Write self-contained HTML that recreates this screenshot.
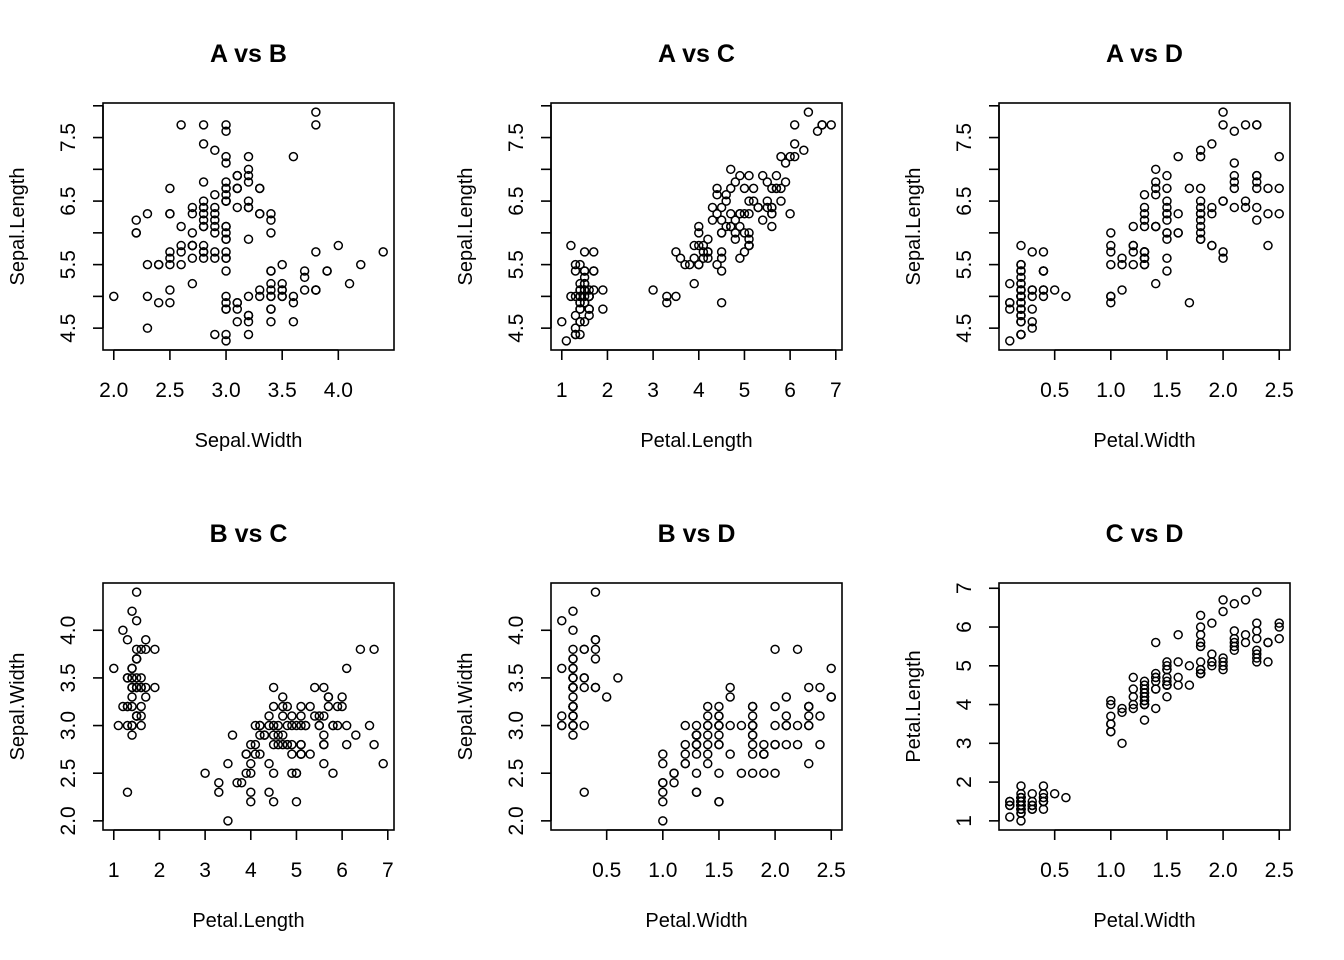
<!DOCTYPE html>
<html><head><meta charset="utf-8"><style>
body{margin:0;background:#fff}
svg{display:block;font-family:"Liberation Sans",Arial,sans-serif}
</style></head><body>
<svg id="c" width="1344" height="960"></svg>
<script>
const sepalLength=[5.1,4.9,4.7,4.6,5.0,5.4,4.6,5.0,4.4,4.9,5.4,4.8,4.8,4.3,5.8,5.7,5.4,5.1,5.7,5.1,5.4,5.1,4.6,5.1,4.8,5.0,5.0,5.2,5.2,4.7,4.8,5.4,5.2,5.5,4.9,5.0,5.5,4.9,4.4,5.1,5.0,4.5,4.4,5.0,5.1,4.8,5.1,4.6,5.3,5.0,
7.0,6.4,6.9,5.5,6.5,5.7,6.3,4.9,6.6,5.2,5.0,5.9,6.0,6.1,5.6,6.7,5.6,5.8,6.2,5.6,5.9,6.1,6.3,6.1,6.4,6.6,6.8,6.7,6.0,5.7,5.5,5.5,5.8,6.0,5.4,6.0,6.7,6.3,5.6,5.5,5.5,6.1,5.8,5.0,5.6,5.7,5.7,6.2,5.1,5.7,
6.3,5.8,7.1,6.3,6.5,7.6,4.9,7.3,6.7,7.2,6.5,6.4,6.8,5.7,5.8,6.4,6.5,7.7,7.7,6.0,6.9,5.6,7.7,6.3,6.7,7.2,6.2,6.1,6.4,7.2,7.4,7.9,6.4,6.3,6.1,7.7,6.3,6.4,6.0,6.9,6.7,6.9,5.8,6.8,6.7,6.7,6.3,6.5,6.2,5.9];
const sepalWidth=[3.5,3.0,3.2,3.1,3.6,3.9,3.4,3.4,2.9,3.1,3.7,3.4,3.0,3.0,4.0,4.4,3.9,3.5,3.8,3.8,3.4,3.7,3.6,3.3,3.4,3.0,3.4,3.5,3.4,3.2,3.1,3.4,4.1,4.2,3.1,3.2,3.5,3.6,3.0,3.4,3.5,2.3,3.2,3.5,3.8,3.0,3.8,3.2,3.7,3.3,
3.2,3.2,3.1,2.3,2.8,2.8,3.3,2.4,2.9,2.7,2.0,3.0,2.2,2.9,2.9,3.1,3.0,2.7,2.2,2.5,3.2,2.8,2.5,2.8,2.9,3.0,2.8,3.0,2.9,2.6,2.4,2.4,2.7,2.7,3.0,3.4,3.1,2.3,3.0,2.5,2.6,3.0,2.6,2.3,2.7,3.0,2.9,2.9,2.5,2.8,
3.3,2.7,3.0,2.9,3.0,3.0,2.5,2.9,2.5,3.6,3.2,2.7,3.0,2.5,2.8,3.2,3.0,3.8,2.6,2.2,3.2,2.8,2.8,2.7,3.3,3.2,2.8,3.0,2.8,3.0,2.8,3.8,2.8,2.8,2.6,3.0,3.4,3.1,3.0,3.1,3.1,3.1,2.7,3.2,3.3,3.0,2.5,3.0,3.4,3.0];
const petalLength=[1.4,1.4,1.3,1.5,1.4,1.7,1.4,1.5,1.4,1.5,1.5,1.6,1.4,1.1,1.2,1.5,1.3,1.4,1.7,1.5,1.7,1.5,1.0,1.7,1.9,1.6,1.6,1.5,1.4,1.6,1.6,1.5,1.5,1.4,1.5,1.2,1.3,1.4,1.3,1.5,1.3,1.3,1.3,1.6,1.9,1.4,1.6,1.4,1.5,1.4,
4.7,4.5,4.9,4.0,4.6,4.5,4.7,3.3,4.6,3.9,3.5,4.2,4.0,4.7,3.6,4.4,4.5,4.1,4.5,3.9,4.8,4.0,4.9,4.7,4.3,4.4,4.8,5.0,4.5,3.5,3.8,3.7,3.9,5.1,4.5,4.5,4.7,4.4,4.1,4.0,4.4,4.6,4.0,3.3,4.2,4.2,4.2,4.3,3.0,4.1,
6.0,5.1,5.9,5.6,5.8,6.6,4.5,6.3,5.8,6.1,5.1,5.3,5.5,5.0,5.1,5.3,5.5,6.7,6.9,5.0,5.7,4.9,6.7,4.9,5.7,6.0,4.8,4.9,5.6,5.8,6.1,6.4,5.6,5.1,5.6,6.1,5.6,5.5,4.8,5.4,5.6,5.1,5.1,5.9,5.7,5.2,5.0,5.2,5.4,5.1];
const petalWidth=[0.2,0.2,0.2,0.2,0.2,0.4,0.3,0.2,0.2,0.1,0.2,0.2,0.1,0.1,0.2,0.4,0.4,0.3,0.3,0.3,0.2,0.4,0.2,0.5,0.2,0.2,0.4,0.2,0.2,0.2,0.2,0.4,0.1,0.2,0.2,0.2,0.2,0.1,0.2,0.2,0.3,0.3,0.2,0.6,0.4,0.3,0.2,0.2,0.2,0.2,
1.4,1.5,1.5,1.3,1.5,1.3,1.6,1.0,1.3,1.4,1.0,1.5,1.0,1.4,1.3,1.4,1.5,1.0,1.5,1.1,1.8,1.3,1.5,1.2,1.3,1.4,1.4,1.7,1.5,1.0,1.1,1.0,1.2,1.6,1.5,1.6,1.5,1.3,1.3,1.3,1.2,1.4,1.2,1.0,1.3,1.2,1.3,1.3,1.1,1.3,
2.5,1.9,2.1,1.8,2.2,2.1,1.7,1.8,1.8,2.5,2.0,1.9,2.1,2.0,2.4,2.3,1.8,2.2,2.3,1.5,2.3,2.0,2.0,1.8,2.1,1.8,1.8,1.8,2.1,1.6,1.9,2.0,2.2,1.5,1.4,2.3,2.4,1.8,1.8,2.1,2.4,2.3,1.9,2.3,2.5,2.3,1.9,2.0,2.3,1.8];
const sepalLengthTicks=[4.5,5.0,5.5,6.0,6.5,7.0,7.5,8.0];
const sepalWidthTicks=[2.0,2.5,3.0,3.5,4.0];
const petalLengthTicks=[1,2,3,4,5,6,7];
const petalWidthTicks=[0.5,1.0,1.5,2.0,2.5];

const vars={
 "Sepal.Length":{d:sepalLength,t:sepalLengthTicks,skip:true,dec:1},
 "Sepal.Width":{d:sepalWidth,t:sepalWidthTicks,skip:false,dec:1},
 "Petal.Length":{d:petalLength,t:petalLengthTicks,skip:false,dec:0},
 "Petal.Width":{d:petalWidth,t:petalWidthTicks,skip:false,dec:1}
};
const panels=[
 {title:"A vs B",x:"Sepal.Width",y:"Sepal.Length",L:103,T:103},
 {title:"A vs C",x:"Petal.Length",y:"Sepal.Length",L:551,T:103},
 {title:"A vs D",x:"Petal.Width",y:"Sepal.Length",L:999,T:103},
 {title:"B vs C",x:"Petal.Length",y:"Sepal.Width",L:103,T:583},
 {title:"B vs D",x:"Petal.Width",y:"Sepal.Width",L:551,T:583},
 {title:"C vs D",x:"Petal.Width",y:"Petal.Length",L:999,T:583}
];
const W=291,H=247;
const svg=document.getElementById('c');
const NS="http://www.w3.org/2000/svg";
function mk(tag,attrs,parent){const e=document.createElementNS(NS,tag);for(const k in attrs)e.setAttribute(k,attrs[k]);parent.appendChild(e);return e;}
function range(a){let mn=Math.min(...a),mx=Math.max(...a),r=mx-mn;return [mn-0.04*r,mx+0.04*r];}
panels.forEach((p,pi)=>{
 const g=mk('g',{},svg);
 
 
 const xv=vars[p.x],yv=vars[p.y];
 const [x0,x1]=range(xv.d),[y0,y1]=range(yv.d);
 const sx=v=>p.L+(v-x0)/(x1-x0)*W;
 const sy=v=>p.T+H-(v-y0)/(y1-y0)*H;
 const t=mk('text',{x:p.L+W/2,y:p.T-41,'text-anchor':'middle','font-size':'25','font-weight':'bold'},g);
 t.textContent=p.title;
 
 
 const box=mk('rect',{x:p.L,y:p.T,width:W,height:H,fill:'none',stroke:'#000','stroke-width':'1.6'},g);
 
 
 const xt=xv.t.filter(v=>v>=x0&&v<=x1);
 const xa=mk('g',{},g);
 
 
 mk('line',{x1:sx(xt[0]),x2:sx(xt[xt.length-1]),y1:p.T+H,y2:p.T+H,stroke:'#000','stroke-width':'1.6'},xa);
 xt.forEach(v=>{
  mk('line',{x1:sx(v),x2:sx(v),y1:p.T+H,y2:p.T+H+10,stroke:'#000','stroke-width':'1.6'},xa);
  const l=mk('text',{x:sx(v),y:p.T+H+47,'text-anchor':'middle','font-size':'21'},xa);
  l.textContent=v.toFixed(xv.dec);
  
  
 });
 const xl=mk('text',{x:p.L+W/2,y:p.T+H+97,'text-anchor':'middle','font-size':'20'},g);
 xl.textContent=p.x;
 
 
 const yt=yv.t.filter(v=>v>=y0&&v<=y1);
 const ya=mk('g',{},g);
 
 
 mk('line',{x1:p.L,x2:p.L,y1:sy(yt[0]),y2:sy(yt[yt.length-1]),stroke:'#000','stroke-width':'1.6'},ya);
 yt.forEach((v,i)=>{
  mk('line',{x1:p.L,x2:p.L-10,y1:sy(v),y2:sy(v),stroke:'#000','stroke-width':'1.6'},ya);
  if(yv.skip&&i%2==1)return;
  const lx=p.L-28,ly=sy(v);
  const l=mk('text',{x:lx,y:ly,'text-anchor':'middle','font-size':'21',transform:`rotate(-90 ${lx} ${ly})`},ya);
  l.textContent=v.toFixed(yv.dec);
  
  
 });
 const tx=p.L-79,ty=p.T+H/2;
 const yl=mk('text',{x:tx,y:ty,'text-anchor':'middle','font-size':'20',transform:`rotate(-90 ${tx} ${ty})`},g);
 yl.textContent=p.y;
 
 
 const pts=mk('g',{fill:'none',stroke:'#000','stroke-width':'1.5'},g);
 
 
 xv.d.forEach((xvv,i)=>{
  const c=mk('circle',{cx:sx(xvv),cy:sy(yv.d[i]),r:4},pts);
  
  
 });
});
</script>
</body></html>
